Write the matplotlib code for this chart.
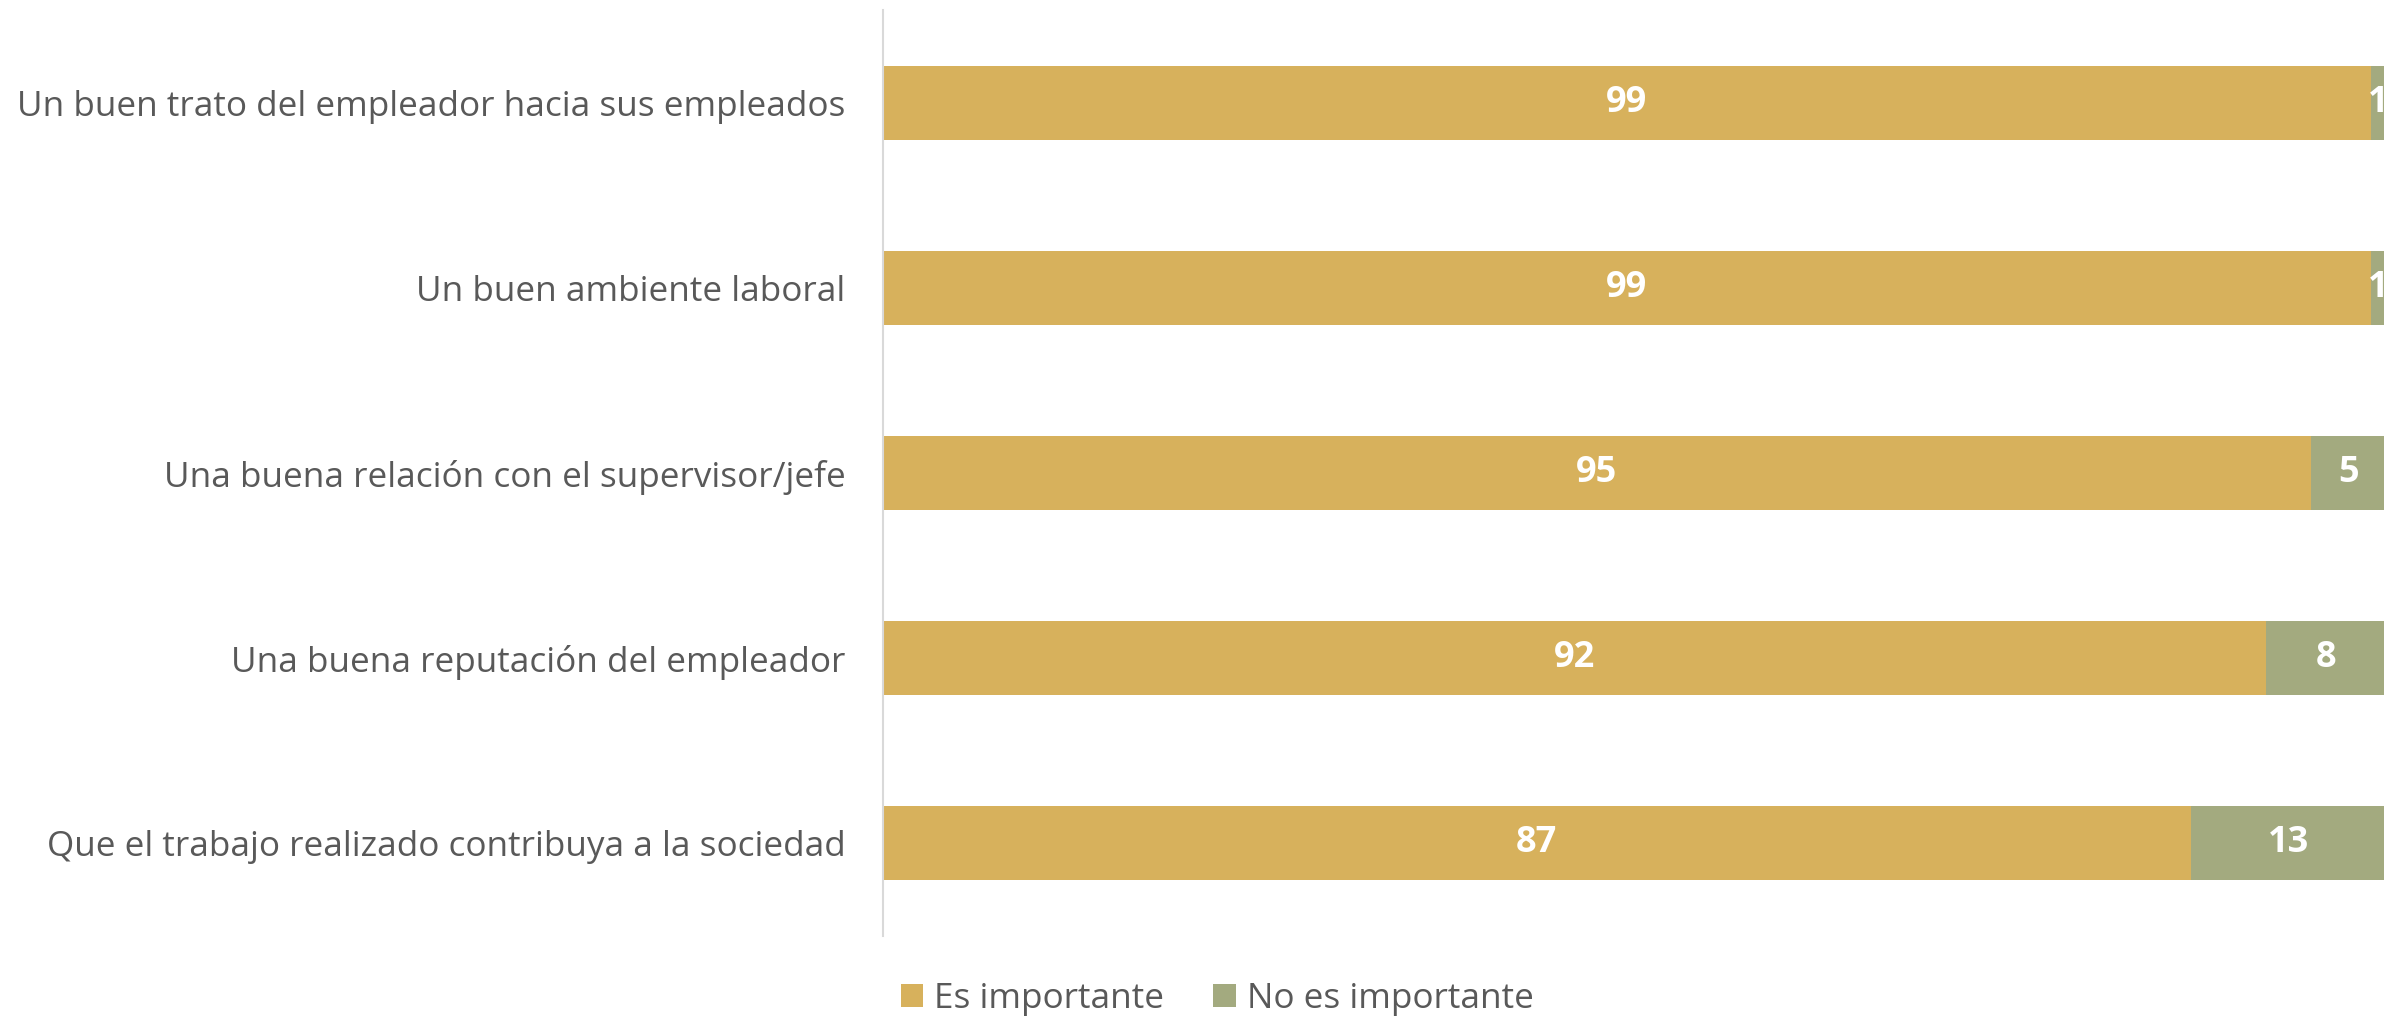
import numpy as np
import matplotlib
matplotlib.use('Agg')
import matplotlib.pyplot as plt

plt.rcParams['font.family'] = ['Open Sans', 'DejaVu Sans']

# Data
categories = ['Un buen trato del empleador hacia sus empleados',
              'Un buen ambiente laboral',
              'Una buena relación con el supervisor/jefe',
              'Una buena reputación del empleador',
              'Que el trabajo realizado contribuya a la sociedad']
importante = [99, 99, 95, 92, 87]
no_importante = [1, 1, 5, 8, 13]
series_labels = ['Es importante', 'No es importante']
colors = ['#D7B15C', '#A3AA7F']
text_gray = '#595959'

fig = plt.figure(figsize=(23.84, 10.19), dpi=100)
ax = fig.add_axes([883/2384, 83/1019, 1 - 883/2384 + 2/2384, 926/1019])

ind = np.arange(len(categories))
bar_h = 0.4
b1 = ax.barh(ind, importante, bar_h, color=colors[0], label=series_labels[0], linewidth=0)
b2 = ax.barh(ind, no_importante, bar_h, left=importante, color=colors[1], label=series_labels[1], linewidth=0)

# Value labels inside bars
for i in range(len(categories)):
    ax.text(importante[i] / 2, ind[i], str(importante[i]), ha='center', va='center',
            color='white', fontsize=26, fontweight='bold')
    ax.text(importante[i] + no_importante[i] / 2, ind[i], str(no_importante[i]), ha='center', va='center',
            color='white', fontsize=26, fontweight='bold', clip_on=False)

ax.set_xlim(0, 100)
ax.set_ylim(len(categories) - 0.5, -0.5)
ax.set_yticks(ind)
ax.set_yticklabels(categories, fontsize=25.3, color=text_gray)
ax.tick_params(axis='y', length=0, pad=27)
ax.set_xticks([])
for s in ['top', 'right', 'bottom']:
    ax.spines[s].set_visible(False)
ax.spines['left'].set_color('#D9D9D9')
ax.spines['left'].set_linewidth(1.5)

fig.legend(handles=[b1, b2], labels=series_labels, loc='center', bbox_to_anchor=(0.5105, 0.02),
           ncol=2, frameon=False, fontsize=25.3, labelcolor=text_gray,
           handlelength=0.65, handleheight=0.65, handletextpad=0.3, columnspacing=1.4)

fig.savefig('out.png', dpi=100)
